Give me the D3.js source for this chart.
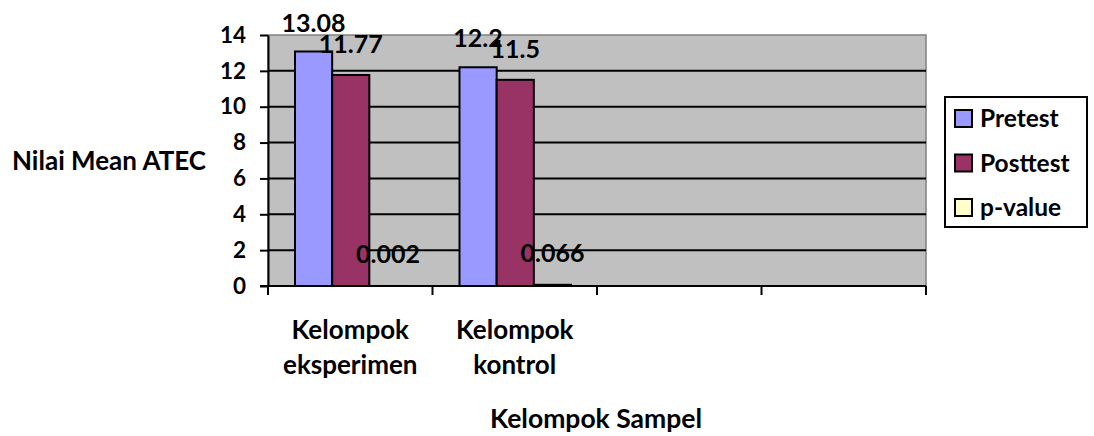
<!DOCTYPE html>
<html>
<head>
<meta charset="utf-8">
<script src="https://cdn.jsdelivr.net/npm/d3@7"></script>
<style>
  html, body { margin: 0; padding: 0; background: #fff; }
  svg { display: block; font-family: Lato, "Open Sans", sans-serif; font-weight: 700; }
</style>
</head>
<body>
<svg id="chart" width="1094" height="436"></svg>
<script>
// Daten
const categories = ["Kelompok eksperimen", "Kelompok kontrol", "", ""];
const seriesNames = ["Pretest", "Posttest", "p-value"];
const pretest = [13.08, 12.2];
const posttest = [11.77, 11.5];
const pValue = [0.002, 0.066];
const valueLabels = [["13.08", "11.77", "0.002"], ["12.2", "11.5", "0.066"]];
const yTicks = [0, 2, 4, 6, 8, 10, 12, 14];

const svg = d3.select("#chart");

// Layout
const plot = { left: 268, right: 926, top: 35, bottom: 286 };
const width = plot.right - plot.left;
const height = plot.bottom - plot.top;

const g = svg.append("g").attr("transform", `translate(${plot.left},${plot.top})`);

// Scales
const x0 = d3.scaleBand()
  .domain(d3.range(categories.length))
  .range([0, width])
  .paddingInner(0)
  .paddingOuter(0);

const groupPad = 27;
const x1 = d3.scaleBand()
  .domain(seriesNames)
  .range([groupPad, x0.bandwidth() - groupPad + 1])
  .padding(0);

const y = d3.scaleLinear().domain([0, 14]).range([height, 0]);

const color = d3.scaleOrdinal()
  .domain(seriesNames)
  .range(["#9999FF", "#993366", "#FFFFCC"]);

// Hintergrund
g.append("rect")
  .attr("width", width)
  .attr("height", height)
  .attr("fill", "#C0C0C0")
  .attr("stroke", "#808080")
  .attr("stroke-width", 1.5);

// Gitterlinien
g.append("g")
  .selectAll("line")
  .data(yTicks.filter(t => t > 0 && t < 14))
  .join("line")
    .attr("x1", 0)
    .attr("x2", width)
    .attr("y1", d => y(d))
    .attr("y2", d => y(d))
    .attr("stroke", "#000")
    .attr("stroke-width", 2);

// Balken
const rows = categories.slice(0, pretest.length).map((c, i) => ({
  i,
  values: [pretest[i], posttest[i], pValue[i]]
}));

const groups = g.selectAll("g.grp")
  .data(rows)
  .join("g")
    .attr("class", "grp")
    .attr("transform", d => `translate(${x0(d.i)},0)`);

groups.selectAll("rect")
  .data(d => d.values.map((v, k) => ({ key: seriesNames[k], value: v })))
  .join("rect")
    .attr("x", d => x1(d.key))
    .attr("width", x1.bandwidth())
    .attr("y", d => y(d.value))
    .attr("height", d => y(0) - y(d.value))
    .attr("fill", d => color(d.key))
    .attr("stroke", "#000")
    .attr("stroke-width", 2);

// Wert-Labels
const labelOffset = { "Pretest": 20, "Posttest": 22, "p-value": 23 };
groups.selectAll("text")
  .data(d => d.values.map((v, k) => ({ key: seriesNames[k], value: v, label: valueLabels[d.i][k] })))
  .join("text")
    .attr("x", d => x1(d.key) + x1.bandwidth() / 2)
    .attr("y", d => y(d.value) - labelOffset[d.key])
    .attr("text-anchor", "middle")
    .attr("font-size", 25)
    .attr("fill", "#000")
    .text(d => d.label);

// Y-Achse
const yAxis = g.append("g")
  .call(d3.axisLeft(y).tickValues(yTicks).tickSize(8).tickPadding(14).tickSizeOuter(0));
yAxis.select(".domain").attr("stroke", "#000").attr("stroke-width", 2);
yAxis.selectAll(".tick line").attr("stroke-width", 2);
yAxis.selectAll(".tick text")
  .attr("font-size", 22.5)
  .attr("font-family", "Lato, sans-serif")
  .attr("font-weight", 700)
  .attr("fill", "#000");

// X-Achse
const xTickPos = d3.range(categories.length + 1).map(i => i * x0.step());
const xAxis = g.append("g").attr("transform", `translate(0,${height})`);
xAxis.append("line")
  .attr("x1", -8).attr("x2", width)
  .attr("stroke", "#000").attr("stroke-width", 2);
xAxis.selectAll("line.tick")
  .data(xTickPos)
  .join("line")
    .attr("class", "tick")
    .attr("x1", d => d).attr("x2", d => d)
    .attr("y1", 0).attr("y2", 9)
    .attr("stroke", "#000").attr("stroke-width", 2);

// Kategorie-Labels (zweizeilig)
const catText = xAxis.selectAll("text.cat")
  .data(categories.map((c, i) => ({ c, i })).filter(d => d.c))
  .join("text")
    .attr("class", "cat")
    .attr("text-anchor", "middle")
    .attr("font-size", 26)
    .attr("fill", "#000")
    .attr("transform", d => `translate(${x0(d.i) + x0.bandwidth() / 2},0)`);
catText.selectAll("tspan")
  .data(d => d.c.split(" "))
  .join("tspan")
    .attr("x", 0)
    .attr("y", (d, k) => 53 + k * 35)
    .text(d => d);

// Achsentitel
svg.append("text")
  .attr("x", 109)
  .attr("y", 170)
  .attr("text-anchor", "middle")
  .attr("font-size", 26)
  .text("Nilai Mean ATEC");

svg.append("text")
  .attr("x", 596)
  .attr("y", 428)
  .attr("text-anchor", "middle")
  .attr("font-size", 26.5)
  .text("Kelompok Sampel");

// Legende
const legend = svg.append("g").attr("transform", "translate(945,97)");
legend.append("rect")
  .attr("width", 142)
  .attr("height", 130)
  .attr("fill", "#fff")
  .attr("stroke", "#000")
  .attr("stroke-width", 2);

const li = legend.selectAll("g.item")
  .data(seriesNames)
  .join("g")
    .attr("class", "item")
    .attr("transform", (d, i) => `translate(10,${21 + i * 44.5})`);

li.append("rect")
  .attr("x", 0)
  .attr("y", -8)
  .attr("width", 17)
  .attr("height", 17)
  .attr("fill", d => color(d))
  .attr("stroke", "#000")
  .attr("stroke-width", 2);

li.append("text")
  .attr("x", 25)
  .attr("y", 9)
  .attr("font-size", 24.5)
  .text(d => d);
</script>
</body>
</html>
